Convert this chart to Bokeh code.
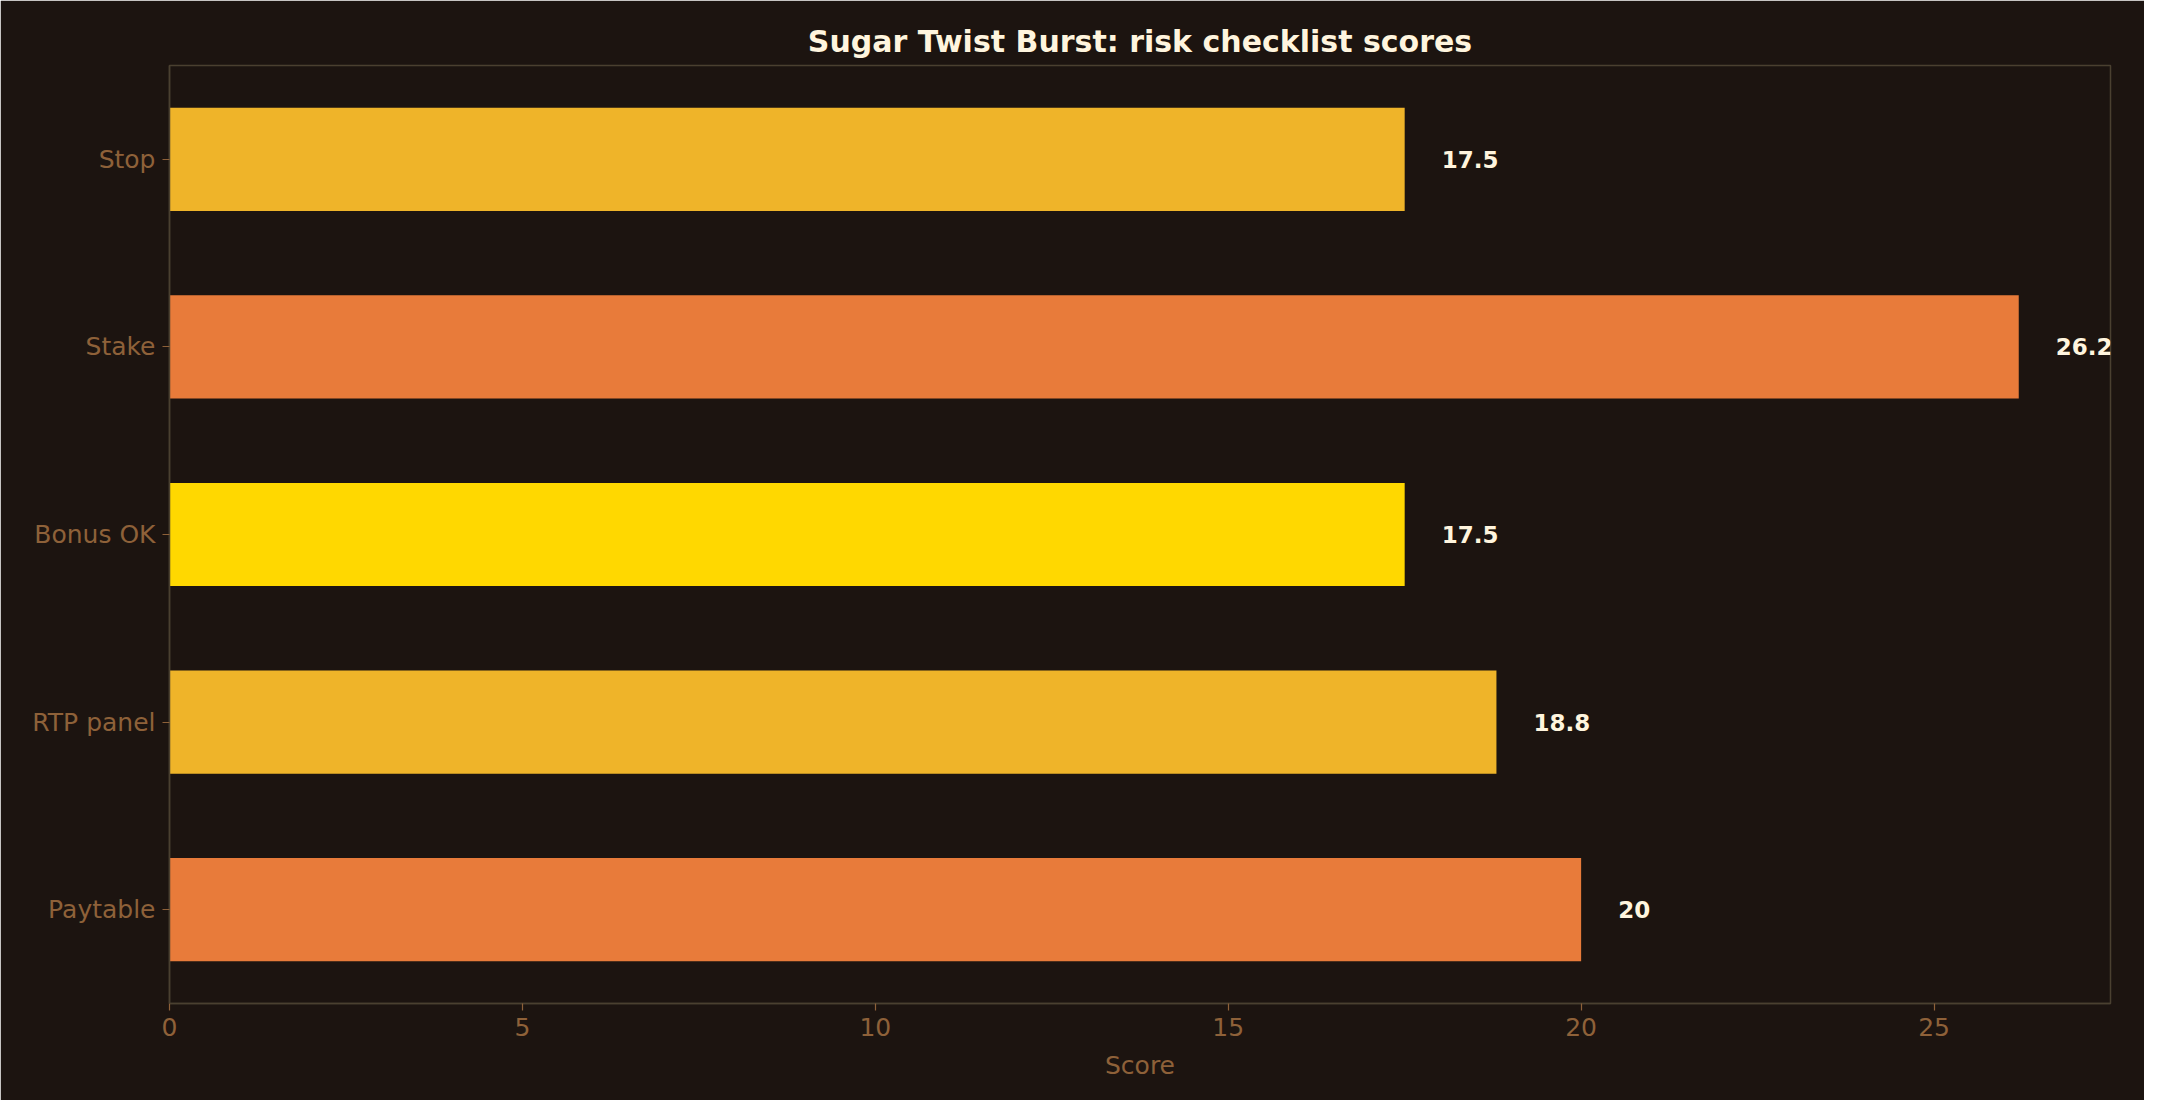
from bokeh.plotting import figure
from bokeh.models import ColumnDataSource, FactorRange, Range1d, FixedTicker
from bokeh.core.properties import value
from bokeh.embed import file_html
from bokeh.resources import INLINE

# data
categories = ["Paytable", "RTP panel", "Bonus OK", "Stake", "Stop"]
scores = [20.0, 18.8, 17.5, 26.2, 17.5]
bar_colors = ["#E87B3A", "#EFB429", "#FFD800", "#E87B3A", "#EFB429"]
x_ticks = [0, 5, 10, 15, 20, 25]
title_text = "Sugar Twist Burst: risk checklist scores"
x_label = "Score"

BG = "#1C1410"
SPINE = "#4A4030"
TICK = "#8E6139"
CREAM = "#FFF5DE"
FONT = "DejaVu Sans"

labels = [f"{v:g}" for v in scores]
src = ColumnDataSource(dict(cat=categories, score=scores, color=bar_colors, label=labels))

p = figure(
    width=2144, height=1100,
    y_range=FactorRange(*categories, range_padding=0),
    x_range=Range1d(0, 27.5),
    output_backend="svg", toolbar_location=None,
    min_border_left=169, min_border_right=34, min_border_top=65, min_border_bottom=97,
    frame_width=1941, frame_height=938,
    title=title_text,
)
p.background_fill_color = BG
p.border_fill_color = BG
p.outline_line_color = SPINE
p.outline_line_width = 1.5
p.xgrid.visible = False
p.ygrid.visible = False

p.title.align = "center"
p.title.text_font = FONT
p.title.text_font_size = "30px"
p.title.text_font_style = "bold"
p.title.text_color = CREAM
p.title.standoff = 14

p.hbar(y="cat", left=0, right="score", height=0.55, fill_color="color", line_color=None, source=src)
p.text(x="score", y="cat", text="label", source=src, x_offset=37,
       text_font=value(FONT), text_font_size="23px", text_font_style="bold",
       text_color=CREAM, text_baseline="middle", text_align="left")

for ax in (p.xaxis[0], p.yaxis[0]):
    ax.axis_line_color = SPINE
    ax.axis_line_width = 1.5
    ax.major_tick_line_color = TICK
    ax.major_tick_line_width = 1.2
    ax.major_tick_out = 7
    ax.major_tick_in = 0
    ax.minor_tick_line_color = None
    ax.major_label_text_color = TICK
    ax.major_label_text_font = FONT
    ax.major_label_text_font_size = "25px"
    ax.major_label_standoff = 7
    ax.axis_label_text_color = TICK
    ax.axis_label_text_font = FONT
    ax.axis_label_text_font_size = "25px"
    ax.axis_label_text_font_style = "normal"

p.xaxis.ticker = FixedTicker(ticks=x_ticks)
p.xaxis.axis_label = x_label
p.xaxis.axis_label_standoff = 12

open("out.html", "w").write(file_html(p, INLINE))
